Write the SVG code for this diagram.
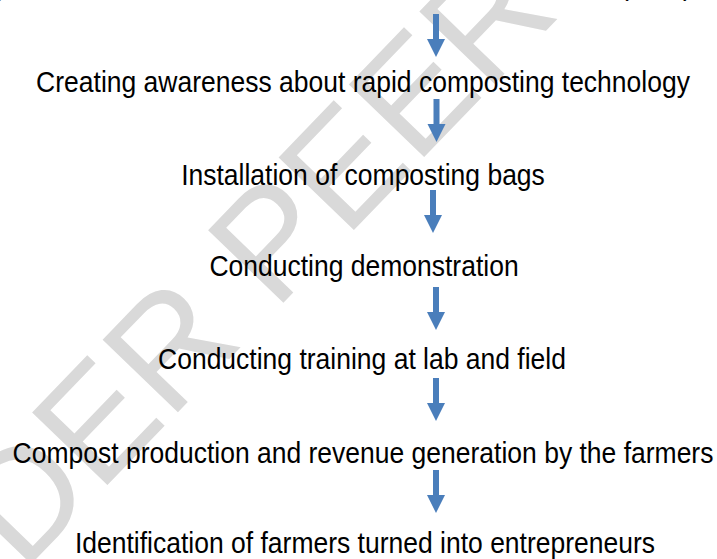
<svg xmlns="http://www.w3.org/2000/svg" xmlns:xlink="http://www.w3.org/1999/xlink" width="717" height="559" viewBox="0 0 717 559">
<style>
.lbl{font-family:"Liberation Sans",Arial,sans-serif;font-size:26.5px;fill:#000;text-anchor:middle}
.frag{font-family:"Liberation Sans",Arial,sans-serif;font-size:26.5px;fill:#000}
.wm{font-family:"Liberation Sans",Arial,sans-serif;font-size:152px;fill:#d9d9d9}
.arr{fill:#4a7ebb}
</style>
<defs>
<path id="arrow" d="M-3,0 H3 V25 H9 L0,43 L-9,25 H-3 Z"/>
</defs>
<rect width="717" height="559" fill="#fff"/>
<g id="watermark">
<text class="wm" transform="translate(-130,731) rotate(-46)">UNDER PEER REVIEW</text>
</g>
<g id="top-fragment">
<text class="frag" x="-10" y="-4">g</text>
<text class="frag" x="620" y="-4">(</text>
<text class="frag" x="683" y="-4">)</text>
</g>
<g id="n1"><text class="lbl" transform="translate(363,92) scale(1,1.1)">Creating awareness about rapid composting technology</text></g>
<g id="n2"><text class="lbl" transform="translate(363,185) scale(1,1.1)">Installation of composting bags</text></g>
<g id="n3"><text class="lbl" transform="translate(364,276) scale(1,1.1)">Conducting demonstration</text></g>
<g id="n4"><text class="lbl" transform="translate(362,369) scale(1,1.1)">Conducting training at lab and field</text></g>
<g id="n5"><text class="lbl" transform="translate(363,463) scale(1,1.1)">Compost production and revenue generation by the farmers</text></g>
<g id="n6"><text class="lbl" transform="translate(365,553) scale(1,1.1)">Identification of farmers turned into entrepreneurs</text></g>
<g id="connectors" class="arr">
<use xlink:href="#arrow" transform="translate(436,14)"/>
<use xlink:href="#arrow" transform="translate(436.5,99)"/>
<use xlink:href="#arrow" transform="translate(433,190)"/>
<use xlink:href="#arrow" transform="translate(436,287)"/>
<use xlink:href="#arrow" transform="translate(436,378)"/>
<use xlink:href="#arrow" transform="translate(436,470)"/>
</g>
</svg>
